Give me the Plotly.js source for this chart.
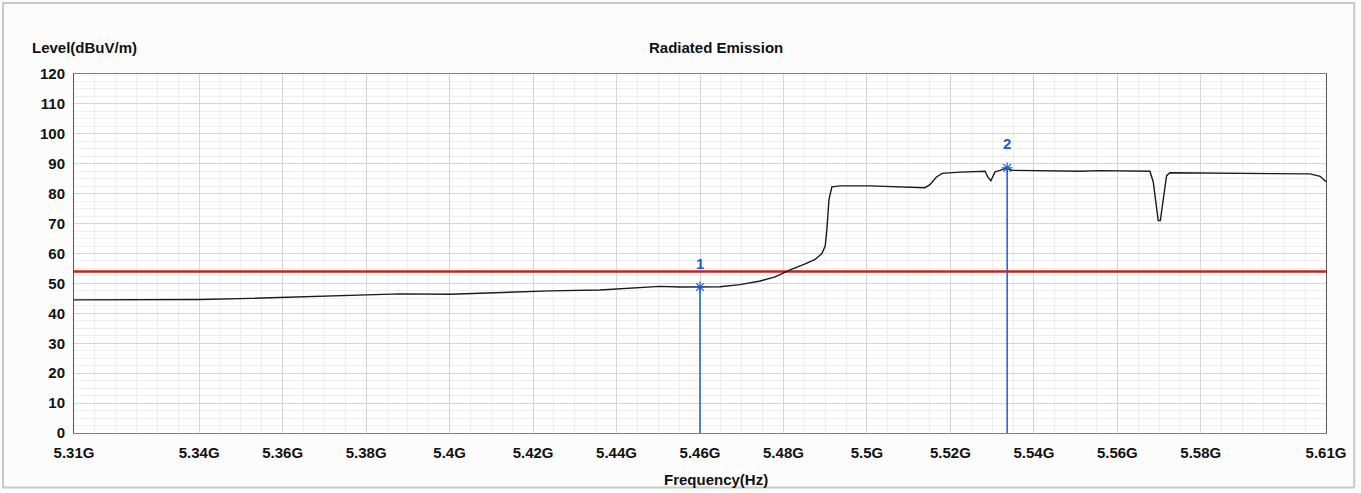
<!DOCTYPE html>
<html>
<head>
<meta charset="utf-8">
<script src="https://cdn.plot.ly/plotly-3.0.1.min.js"></script>
<style>
html,body{margin:0;padding:0;background:#ffffff;}
#chart{width:1361px;height:493px;}
</style>
</head>
<body>
<div id="chart"></div>
<script>
// Frequency in GHz, level in dBuV/m
const freqGHz = [5.3100,5.3234,5.3402,5.3522,5.3642,5.3761,5.3881,5.4001,5.4121,5.4241,5.4360,5.4432,5.4504,5.4552,5.4600,5.4648,5.4696,5.4744,5.4780,5.4816,5.4852,5.4876,5.4892,5.4900,5.4904,5.4909,5.4916,5.4936,5.5008,5.5079,5.5139,5.5151,5.5166,5.5180,5.5223,5.5283,5.5290,5.5297,5.5307,5.5319,5.5336,5.5348,5.5439,5.5511,5.5559,5.5654,5.5678,5.5686,5.5693,5.5698,5.5703,5.5710,5.5718,5.5726,5.5846,5.5942,5.6014,5.6062,5.6086,5.6100];
const levelDb = [44.5,44.5,44.6,45.0,45.5,46.0,46.5,46.4,47.0,47.5,47.8,48.5,49.0,48.8,48.8,48.9,49.6,50.8,52.2,54.5,56.5,58.0,60.0,62.5,68.0,78.0,82.3,82.6,82.6,82.3,82.0,83.0,85.5,86.8,87.2,87.5,85.5,84.3,87.3,87.8,88.6,87.8,87.7,87.5,87.7,87.6,87.5,84.0,76.0,71.0,71.0,78.0,86.0,87.0,86.9,86.8,86.6,86.6,85.8,84.0];

const limitFreq = [5.31, 5.61];
const limitLevel = [54, 54];

const markerNames = ["1", "2"];
const markerFreq = [5.4600, 5.5336];
const markerLevel = [48.8, 88.6];

const xTickVals = [5.31,5.34,5.36,5.38,5.40,5.42,5.44,5.46,5.48,5.50,5.52,5.54,5.56,5.58,5.61];
const xTickText = ["5.31G","5.34G","5.36G","5.38G","5.4G","5.42G","5.44G","5.46G","5.48G","5.5G","5.52G","5.54G","5.56G","5.58G","5.61G"];

const FONT = "Liberation Sans, Arial, sans-serif";
const BLUE = "#1c5bd6";

const traces = [
  {x: limitFreq, y: limitLevel, mode: "lines", line: {color: "#d21e1e", width: 2.5}, hoverinfo: "skip"},
  {x: freqGHz, y: levelDb, mode: "lines", line: {color: "#1a1a1a", width: 1.4}},
  {x: markerFreq, y: markerLevel, mode: "markers",
   marker: {symbol: "asterisk-open", size: 9, color: BLUE, line: {color: BLUE, width: 1.2}}}
];

const shapes = markerFreq.map((f, i) => ({
  type: "line", xref: "x", yref: "y", x0: f, x1: f, y0: 0, y1: markerLevel[i],
  line: {color: BLUE, width: 1.5}
}));
// outer frame of the picture
shapes.push({type: "rect", xref: "paper", yref: "paper",
  x0: -0.0567, x1: 1.0225, y0: -0.152, y1: 1.198,
  line: {color: "#c9c9c9", width: 2}, layer: "below"});

const annotations = markerFreq.map((f, i) => ({
  x: f, y: markerLevel[i], xref: "x", yref: "y", text: markerNames[i],
  showarrow: false, yshift: 24, font: {family: FONT, size: 15, color: BLUE, weight: 700}
}));
annotations.push({xref: "paper", yref: "paper", x: -0.035, y: 1.075, xanchor: "left", yanchor: "middle",
  text: "Level(dBuV/m)", showarrow: false, font: {family: FONT, size: 15, color: "#111", weight: 700}});
annotations.push({xref: "paper", yref: "paper", x: 0.5128, y: 1.075, xanchor: "center", yanchor: "middle",
  text: "Radiated Emission", showarrow: false, font: {family: FONT, size: 15, color: "#111", weight: 700}});
annotations.push({xref: "paper", yref: "paper", x: 0.5128, y: -0.13, xanchor: "center", yanchor: "middle",
  text: "Frequency(Hz)", showarrow: false, font: {family: FONT, size: 15, color: "#111", weight: 700}});

const layout = {
  width: 1361, height: 493,
  margin: {l: 74, r: 35, t: 74, b: 60},
  paper_bgcolor: "#fcfcfc",
  plot_bgcolor: "#ffffff",
  showlegend: false,
  hovermode: false,
  xaxis: {
    range: [5.31, 5.61], tickmode: "array", tickvals: xTickVals, ticktext: xTickText,
    showgrid: true, gridcolor: "#d6d6d6", gridwidth: 1,
    minor: {dtick: 0.005, tick0: 5.31, showgrid: true, gridcolor: "#eeeeee", ticks: ""},
    showline: true, linecolor: "#808080", linewidth: 1, mirror: true,
    ticks: "", ticklen: 0, zeroline: false, ticklabelstandoff: 6,
    tickfont: {family: FONT, size: 15, color: "#111", weight: 700}
  },
  yaxis: {
    range: [0, 120], tickmode: "linear", tick0: 0, dtick: 10,
    showgrid: true, gridcolor: "#d6d6d6", gridwidth: 1,
    minor: {dtick: 2.5, showgrid: true, gridcolor: "#eeeeee", ticks: ""},
    showline: true, linecolor: "#555555", linewidth: 1, mirror: true,
    ticks: "", ticklen: 0, zeroline: false, ticklabelstandoff: 5,
    tickfont: {family: FONT, size: 15, color: "#111", weight: 700}
  },
  shapes: shapes,
  annotations: annotations
};

Plotly.newPlot("chart", traces, layout, {displayModeBar: false, staticPlot: true});
</script>
</body>
</html>
